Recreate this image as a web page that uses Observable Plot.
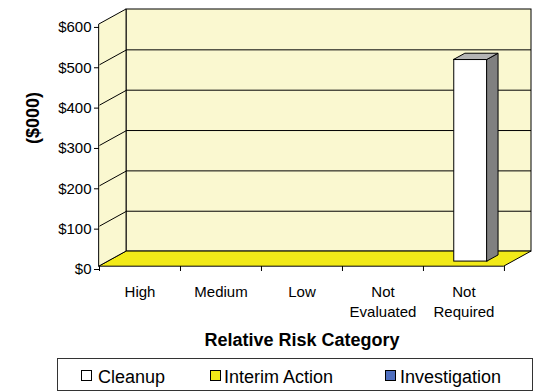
<!DOCTYPE html>
<html><head><meta charset="utf-8">
<script src="https://cdn.jsdelivr.net/npm/d3@7"></script>
<script src="https://cdn.jsdelivr.net/npm/@observablehq/plot@0.6"></script>
<style>
body{margin:0;background:#fff;font-family:"Liberation Sans",Arial,sans-serif;}
#wrap{position:relative;width:537px;height:391px;overflow:hidden;}
#chart svg{display:block;}
#legend{position:absolute;left:57px;top:358px;width:476px;height:33px;border:1px solid #333;box-sizing:border-box;background:#fff;}
#legend .sw{position:absolute;top:11px;width:11px;height:11px;border:1px solid #000;box-sizing:border-box;}
#legend .lb{position:absolute;top:8px;font-size:18px;line-height:20px;color:#000;white-space:nowrap;}
</style>
</head><body>
<div id="wrap"><div id="chart"></div><div id="legend"></div></div>
<script>
// ---- data ----
const categories = ["High", "Medium", "Low", "Not\nEvaluated", "Not\nRequired"];
const series = ["Cleanup", "Interim Action", "Investigation"];
const cleanup = [0, 0, 0, 0, 500];
const interimAction = [0, 0, 0, 0, 0];
const investigation = [0, 0, 0, 0, 0];
const yTicks = [0, 100, 200, 300, 400, 500, 600];

// ---- styles ----
const seriesColors = ["#ffffff", "#f2ea18", "#4f6fc0"];
const WALL = "#faf8d0", FLOOR = "#f2ea18", SIDE = "#808080", TOP = "#b4b4b4";
const DX = 0.334, DY = 37;        // depth offset in data units (oblique projection)
const F1 = 0.33, F2 = 0.74;       // bar front/back depth fractions
const BW = 0.41, BC = 0.475;      // bar width, bar centre within category

const n = categories.length;
const yMax = yTicks[yTicks.length - 1];
const values = [cleanup, interimAction, investigation];
const bars = [];
values.forEach((vals, si) => vals.forEach((v, i) => { if (v > 0) bars.push({s: si, i, v}); }));
const sideRows = [], topRows = [];
bars.forEach((b, k) => {
  const xr = b.i + BC + BW / 2, xl = b.i + BC - BW / 2;
  sideRows.push({k, x: xr + F1 * DX, y1: F1 * DY, y2: b.v + F1 * DY});
  sideRows.push({k, x: xr + F2 * DX, y1: F2 * DY, y2: b.v + F2 * DY});
  topRows.push({k, y: b.v + F1 * DY, x1: xl + F1 * DX, x2: xr + F1 * DX});
  topRows.push({k, y: b.v + F2 * DY, x1: xl + F2 * DX, x2: xr + F2 * DX});
});
const inner = yTicks.filter(d => d > 0 && d < yMax);

const plot = Plot.plot({
  width: 537, height: 358,
  marginLeft: 99, marginRight: 6, marginTop: 9, marginBottom: 92,
  x: {type: "linear", domain: [0, n + DX]},
  y: {type: "linear", domain: [0, yMax + DY]},
  style: {fontFamily: "Liberation Sans, Arial, sans-serif", fontSize: "15px", background: "#fff", color: "#000"},
  marks: [
    Plot.rect([0], {x1: () => DX, x2: () => n + DX, y1: () => DY, y2: () => yMax + DY, fill: WALL, stroke: "#000"}),
    Plot.areaX([{y: 0, x1: 0, x2: n}, {y: DY, x1: DX, x2: n + DX}], {y: "y", x1: "x1", x2: "x2", fill: FLOOR, stroke: "#000"}),
    Plot.areaY([{x: 0, y1: 0, y2: yMax}, {x: DX, y1: DY, y2: yMax + DY}], {x: "x", y1: "y1", y2: "y2", fill: WALL, stroke: "#000"}),
    Plot.ruleY(inner, {y: d => d + DY, x1: () => DX, x2: () => n + DX, stroke: "#000"}),
    Plot.link(inner, {x1: () => 0, y1: d => d, x2: () => DX, y2: d => d + DY, stroke: "#000"}),
    Plot.rect(bars, {x1: d => d.i + BC - BW / 2 + F1 * DX, x2: d => d.i + BC + BW / 2 + F1 * DX, y1: () => F1 * DY, y2: d => d.v + F1 * DY, fill: d => seriesColors[d.s], stroke: "#000"}),
    Plot.areaY(sideRows, {x: "x", y1: "y1", y2: "y2", z: "k", fill: SIDE, stroke: "#000"}),
    Plot.areaX(topRows, {y: "y", x1: "x1", x2: "x2", z: "k", fill: TOP, stroke: "#000"}),
    Plot.axisY(yTicks, {tickSize: 5, tickPadding: 3, tickFormat: d => "$" + d, label: null, dy: 3}),
    Plot.axisX(d3.range(n + 1), {tickSize: 5, tickFormat: () => "", label: null}),
    Plot.text(categories, {x: (d, i) => i + 0.5, y: () => 0, lineAnchor: "top", dy: 16, lineHeight: 1.33, fontSize: 15}),
    Plot.text(["Relative Risk Category"], {x: () => n / 2, y: () => 0, lineAnchor: "top", dy: 67, fontSize: 18, fontWeight: "bold"}),
    Plot.text(["($000)"], {frameAnchor: "left", dx: -66, dy: 6, rotate: -90, fontSize: 18, fontWeight: "bold"})
  ]
});
document.getElementById("chart").appendChild(plot);

// ---- legend ----
const legend = document.getElementById("legend");
const swLeft = [23, 152, 327], lbLeft = [40, 166, 342];
series.forEach((s, i) => {
  const sw = document.createElement("div");
  sw.className = "sw"; sw.style.left = swLeft[i] + "px"; sw.style.background = seriesColors[i];
  const lb = document.createElement("div");
  lb.className = "lb"; lb.style.left = lbLeft[i] + "px"; lb.textContent = s;
  legend.appendChild(sw); legend.appendChild(lb);
});
</script>
</body></html>
